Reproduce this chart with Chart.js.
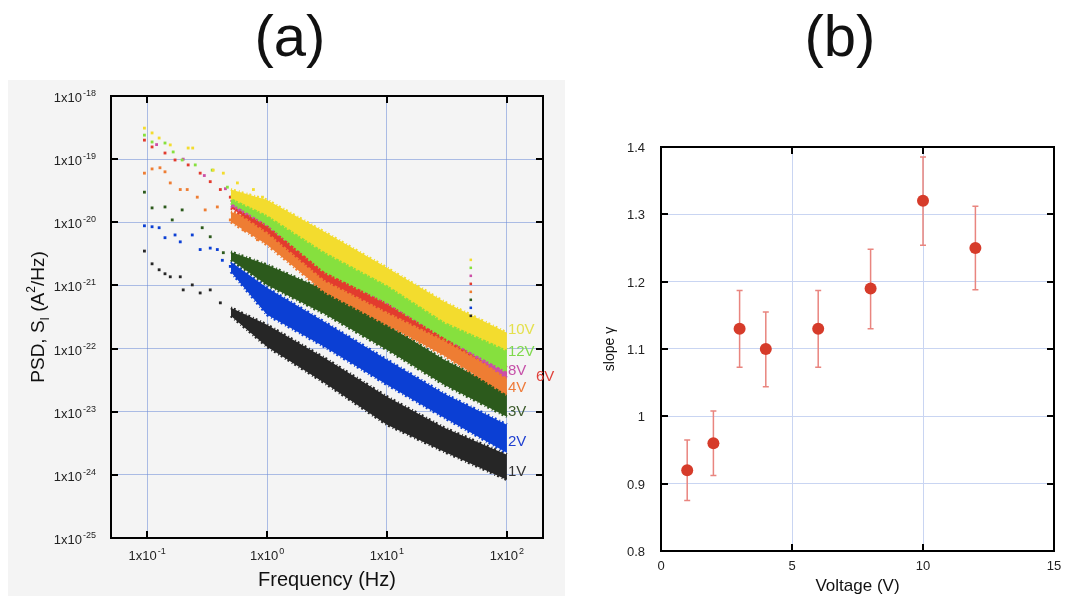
<!DOCTYPE html>
<html>
<head>
<meta charset="utf-8">
<script src="https://cdn.jsdelivr.net/npm/chart.js@4.4.1/dist/chart.umd.min.js"></script>
<style>
    html, body { margin: 0; padding: 0; background: #fff; }
    body { width: 1065px; height: 599px; position: relative; overflow: hidden; font-family: "Liberation Sans", Arial, sans-serif; }
    .title { position: absolute; top: 3px; width: 200px; font-size: 58px; line-height: 65px; color: #111; text-align: center; }
    #boxA { position: absolute; left: 8px; top: 80px; width: 557px; height: 516px; background: #f4f4f4; }
    #boxB { position: absolute; left: 565px; top: 80px; width: 500px; height: 519px; }
</style>
</head>
<body>
<div class="title" style="left:190px">(a)</div>
<div class="title" style="left:740px">(b)</div>
<div id="boxA"><canvas id="psdChart" width="557" height="516"></canvas></div>
<div id="boxB"><canvas id="slopeChart" width="500" height="519"></canvas></div>

<script>
// ---------- Panel (a): PSD vs frequency ----------
var freqTicks = [0.1, 1, 10, 100];
var psdTicks = [1e-25, 1e-24, 1e-23, 1e-22, 1e-21, 1e-20, 1e-19, 1e-18];

var seriesNames = ["10V", "12V", "8V", "6V", "4V", "3V", "2V", "1V"];
var seriesColors = ["#f3dc2e", "#86e03e", "#cc4fa6", "#e23b2e", "#ee7d33", "#2c5a1c", "#0b3fd4", "#262626"];
var labelColors = ["#e4e04c", "#7fd94c", "#c64fa8", "#e0403a", "#ef7b3a", "#3c5a2c", "#1f3fd0", "#333333"];

// dense part of each cloud: upper / lower edge at these frequencies
var bandFreq = [0.5, 1, 3, 10, 30, 100];
var hi10V = [3.30e-20, 2.26e-20, 7.05e-21, 1.90e-21, 5.50e-22, 1.78e-22];
var lo10V = [2.43e-20, 1.31e-20, 3.40e-21, 1.02e-21, 2.65e-22, 9.57e-23];
var hi12V = [2.71e-20, 1.57e-20, 3.94e-21, 1.23e-21, 3.30e-22, 9.57e-23];
var lo12V = [2.03e-20, 9.10e-21, 1.64e-21, 5.31e-22, 1.48e-22, 4.30e-23];
var hi8V = [2.26e-20, 1.31e-20, 2.73e-21, 7.10e-22, 2.13e-22, 4.97e-23];
var lo8V = [1.82e-20, 9.10e-21, 1.90e-21, 5.31e-22, 1.60e-22, 3.45e-23];
var hi6V = [2.26e-20, 1.17e-20, 2.36e-21, 6.37e-22, 1.98e-22, 5.55e-23];
var lo6V = [1.69e-20, 7.05e-21, 1.23e-21, 3.82e-22, 1.38e-22, 3.85e-23];
var hi4V = [1.46e-20, 1.01e-20, 1.90e-21, 6.37e-22, 1.84e-22, 4.14e-23];
var lo4V = [1.01e-20, 4.39e-21, 7.92e-22, 2.38e-22, 7.69e-23, 1.86e-23];
var hi3V = [3.40e-21, 2.12e-21, 8.51e-22, 2.38e-22, 6.65e-23, 2.07e-23];
var lo3V = [2.54e-21, 1.02e-21, 3.55e-22, 9.57e-23, 2.67e-23, 8.34e-24];
var hi2V = [2.36e-21, 9.16e-22, 2.65e-22, 6.65e-23, 1.93e-23, 6.23e-24];
var lo2V = [1.64e-21, 3.43e-22, 1.07e-22, 2.67e-23, 8.04e-24, 2.24e-24];
var hi1V = [4.42e-22, 2.38e-22, 7.15e-23, 1.73e-23, 5.58e-24, 2.09e-24];
var lo1V = [3.30e-22, 1.07e-22, 2.88e-23, 6.23e-24, 2.33e-24, 8.40e-25];

// sparse low-frequency points [Hz, A^2/Hz]
var pts10V = [[0.095, 3.1e-19], [0.110, 2.6e-19], [0.126, 2.16e-19], [0.156, 1.68e-19], [0.220, 1.5e-19], [0.240, 1.5e-19], [0.356, 6.7e-20], [0.432, 6.0e-20], [0.566, 4.2e-20], [0.770, 3.3e-20], [0.916, 2.5e-20]];
var pts12V = [[0.095, 2.4e-19], [0.110, 1.87e-19], [0.141, 1.8e-19], [0.165, 1.3e-19], [0.196, 9.7e-20], [0.252, 8.1e-20], [0.349, 6.7e-20], [0.467, 3.6e-20], [0.635, 2.5e-20], [0.933, 1.57e-20]];
var pts8V = [[0.12, 1.7e-19], [0.20, 1.0e-19], [0.30, 5.5e-20], [0.45, 3.4e-20], [0.70, 1.8e-20]];
var pts6V = [[0.095, 2.0e-19], [0.110, 1.56e-19], [0.141, 1.25e-19], [0.171, 9.7e-20], [0.220, 8.1e-20], [0.277, 6.0e-20], [0.336, 4.4e-20], [0.408, 3.3e-20], [0.494, 2.5e-20], [0.600, 1.75e-20], [0.832, 1.09e-20]];
var pts4V = [[0.095, 6.0e-20], [0.110, 7.0e-20], [0.128, 7.3e-20], [0.141, 6.3e-20], [0.156, 4.2e-20], [0.189, 3.3e-20], [0.216, 3.3e-20], [0.262, 2.5e-20], [0.305, 1.57e-20], [0.385, 1.75e-20], [0.494, 1.09e-20], [0.635, 7.6e-21], [0.832, 5.3e-21]];
var pts3V = [[0.095, 3.0e-20], [0.110, 1.69e-20], [0.141, 1.75e-20], [0.162, 1.09e-20], [0.196, 1.57e-20], [0.288, 8.2e-21], [0.336, 5.9e-21], [0.432, 3.3e-21], [0.600, 2.3e-21], [0.832, 1.77e-21]];
var pts2V = [[0.095, 8.8e-21], [0.110, 8.5e-21], [0.126, 8.2e-21], [0.141, 5.7e-21], [0.171, 6.3e-21], [0.189, 4.9e-21], [0.238, 6.3e-21], [0.277, 3.7e-21], [0.336, 3.9e-21], [0.385, 3.7e-21], [0.424, 2.5e-21], [0.494, 2.0e-21], [0.600, 1.58e-21], [0.770, 1.10e-21]];
var pts1V = [[0.095, 3.5e-21], [0.110, 2.2e-21], [0.126, 1.77e-21], [0.141, 1.53e-21], [0.156, 1.37e-21], [0.189, 1.37e-21], [0.200, 8.5e-22], [0.238, 1.02e-21], [0.277, 7.6e-22], [0.336, 8.5e-22], [0.408, 5.3e-22], [0.524, 3.7e-22], [0.686, 2.6e-22], [0.881, 1.78e-22]];

// 50 Hz pickup spike
var spikeFreq = 50;
var spikePsd = [2.54e-21, 1.90e-21, 1.42e-21, 1.06e-21, 7.92e-22, 5.92e-22, 4.42e-22, 3.30e-22];

// ---------- Panel (b): slope vs voltage ----------
var voltTicks = [0, 5, 10, 15];
var slopeTicks = [0.8, 0.9, 1, 1.1, 1.2, 1.3, 1.4];
var voltage = [1, 2, 3, 4, 6, 8, 10, 12];
var slope = [0.92, 0.96, 1.13, 1.10, 1.13, 1.19, 1.32, 1.25];
var slopeLow = [0.875, 0.912, 1.073, 1.044, 1.073, 1.130, 1.254, 1.188];
var slopeHigh = [0.965, 1.008, 1.187, 1.155, 1.187, 1.248, 1.385, 1.312];

(function () {
    "use strict";

    var FONT = "'Liberation Sans', Arial, sans-serif";
    var highs = [hi10V, hi12V, hi8V, hi6V, hi4V, hi3V, hi2V, hi1V];
    var lows = [lo10V, lo12V, lo8V, lo6V, lo4V, lo3V, lo2V, lo1V];
    var pts = [pts10V, pts12V, pts8V, pts6V, pts4V, pts3V, pts2V, pts1V];

    function xy(xs, ys) {
        return xs.map(function (x, i) { return { x: x, y: ys[i] }; });
    }
    function pairs(list) {
        return list.map(function (p) { return { x: p[0], y: p[1] }; });
    }

    // ---------- datasets for (a) ----------
    // band edges are drawn dotted and wide so the clouds get a speckled rim
    var dsA = [];
    seriesNames.forEach(function (name, i) {
        var c = seriesColors[i];
        dsA.push({ label: name + " hi", data: xy(bandFreq, highs[i]), borderColor: c, backgroundColor: c,
            borderWidth: 3, borderDash: [1, 2, 2, 3], pointRadius: 0, fill: "+1", order: i });
        dsA.push({ label: name + " lo", data: xy(bandFreq, lows[i]), borderColor: c, backgroundColor: c,
            borderWidth: 3, borderDash: [2, 3, 1, 2], pointRadius: 0, fill: false, order: i });
        dsA.push({ label: name + " pts", data: pairs(pts[i]), showLine: false, pointRadius: 2,
            pointStyle: "rect", pointBackgroundColor: c, pointBorderWidth: 0, order: i });
    });
    dsA.push({ label: "spike", data: spikePsd.map(function (v) { return { x: spikeFreq, y: v }; }),
        showLine: false, pointRadius: 1.8, pointStyle: "rect", pointBorderWidth: 0, order: -1,
        pointBackgroundColor: spikePsd.map(function (v, i) { return seriesColors[i % seriesColors.length]; }) });

    function drawPow(ctx, exp, x, y, align) {
        ctx.font = "13px " + FONT;
        var bw = ctx.measureText("1x10").width;
        ctx.font = "9px " + FONT;
        var sup = String(exp);
        var sw = ctx.measureText(sup).width;
        var total = bw + 1 + sw;
        var x0 = align === "right" ? x - total : (align === "center" ? x - total / 2 : x);
        ctx.textAlign = "left";
        ctx.textBaseline = "alphabetic";
        ctx.font = "13px " + FONT;
        ctx.fillText("1x10", x0, y);
        ctx.font = "9px " + FONT;
        ctx.fillText(sup, x0 + bw + 1, y - 6);
    }

    function drawRich(ctx, parts, cx, cy, size) {
        // parts: [text, kind] with kind "", "sub" or "sup"; drawn rotated -90deg, centred on (cx, cy)
        var small = Math.round(size * 0.62);
        var widths = parts.map(function (p) {
            ctx.font = (p[1] ? small : size) + "px " + FONT;
            return ctx.measureText(p[0]).width;
        });
        var total = widths.reduce(function (a, b) { return a + b; }, 0);
        ctx.save();
        ctx.translate(cx, cy);
        ctx.rotate(-Math.PI / 2);
        ctx.textAlign = "left";
        ctx.textBaseline = "alphabetic";
        var x = -total / 2;
        parts.forEach(function (p, i) {
            ctx.font = (p[1] ? small : size) + "px " + FONT;
            var dy = p[1] === "sub" ? 5 : (p[1] === "sup" ? -9 : 0);
            ctx.fillText(p[0], x, dy);
            x += widths[i];
        });
        ctx.restore();
    }

    function frameAndTicks(ctx, area, xs, ys, xScale, yScale) {
        ctx.save();
        ctx.strokeStyle = "#000";
        ctx.lineWidth = 2;
        ctx.beginPath();
        xs.forEach(function (v) {
            var px = Math.round(xScale.getPixelForValue(v));
            ctx.moveTo(px, area.bottom); ctx.lineTo(px, area.bottom - 7);
            ctx.moveTo(px, area.top); ctx.lineTo(px, area.top + 7);
        });
        ys.forEach(function (v) {
            var py = Math.round(yScale.getPixelForValue(v));
            ctx.moveTo(area.left, py); ctx.lineTo(area.left + 7, py);
            ctx.moveTo(area.right, py); ctx.lineTo(area.right - 7, py);
        });
        ctx.stroke();
        ctx.strokeRect(area.left, area.top, area.right - area.left, area.bottom - area.top);
        ctx.restore();
    }

    var decorA = {
        id: "decorA",
        afterDraw: function (chart) {
            var ctx = chart.ctx, area = chart.chartArea;
            var xs = chart.scales.x, ys = chart.scales.y;
            frameAndTicks(ctx, area, freqTicks, psdTicks, xs, ys);

            ctx.save();
            ctx.fillStyle = "#222";
            psdTicks.forEach(function (v) {
                drawPow(ctx, Math.round(Math.log10(v)), area.left - 15, ys.getPixelForValue(v) + 6, "right");
            });
            freqTicks.forEach(function (v) {
                drawPow(ctx, Math.round(Math.log10(v)), xs.getPixelForValue(v), area.bottom + 22, "center");
            });

            ctx.fillStyle = "#111";
            ctx.font = "20px " + FONT;
            ctx.textAlign = "center";
            ctx.textBaseline = "alphabetic";
            ctx.fillText("Frequency (Hz)", (area.left + area.right) / 2, area.bottom + 48);
            drawRich(ctx, [["PSD, S", ""], ["I", "sub"], [" (A", ""], ["2", "sup"], ["/Hz)", ""]],
                36, (area.top + area.bottom) / 2, 19);

            // series labels at the right end of each cloud
            var dx = [1, 1, 1, 29, 1, 1, 1, 1];
            var dy = [-11, -9, -2, 7, 4, 8, 3, 5];
            ctx.font = "15px " + FONT;
            ctx.textAlign = "left";
            ctx.textBaseline = "middle";
            var last = bandFreq.length - 1;
            seriesNames.forEach(function (name, i) {
                var mid = Math.sqrt(highs[i][last] * lows[i][last]);
                ctx.fillStyle = labelColors[i];
                ctx.fillText(name, xs.getPixelForValue(bandFreq[last]) + dx[i], ys.getPixelForValue(mid) + dy[i]);
            });
            ctx.restore();
        }
    };

    var gridA = { color: "rgba(110, 140, 215, 0.55)", lineWidth: 1, drawTicks: false };

    new Chart(document.getElementById("psdChart"), {
        type: "line",
        data: { datasets: dsA },
        options: {
            responsive: false,
            animation: false,
            layout: { padding: { left: 0, right: 22, top: 16, bottom: 0 } },
            plugins: { legend: { display: false }, tooltip: { enabled: false } },
            scales: {
                x: {
                    type: "logarithmic", min: 0.05, max: 200,
                    ticks: { display: false }, grid: gridA, border: { display: false },
                    afterBuildTicks: function (s) { s.ticks = freqTicks.map(function (v) { return { value: v }; }); },
                    afterFit: function (s) { s.height = 58; }
                },
                y: {
                    type: "logarithmic", min: 1e-25, max: 1e-18,
                    ticks: { display: false }, grid: gridA, border: { display: false },
                    afterBuildTicks: function (s) { s.ticks = psdTicks.map(function (v) { return { value: v }; }); },
                    afterFit: function (s) { s.width = 103; }
                }
            }
        },
        plugins: [decorA]
    });

    // ---------- panel (b) ----------
    var decorB = {
        id: "decorB",
        beforeDatasetsDraw: function (chart) {
            var ctx = chart.ctx, xs = chart.scales.x, ys = chart.scales.y;
            ctx.save();
            ctx.strokeStyle = "#e9857f";
            ctx.lineWidth = 1.5;
            ctx.beginPath();
            voltage.forEach(function (v, i) {
                var px = xs.getPixelForValue(v);
                var y1 = ys.getPixelForValue(slopeLow[i]);
                var y2 = ys.getPixelForValue(slopeHigh[i]);
                ctx.moveTo(px, y1); ctx.lineTo(px, y2);
                ctx.moveTo(px - 3, y1); ctx.lineTo(px + 3, y1);
                ctx.moveTo(px - 3, y2); ctx.lineTo(px + 3, y2);
            });
            ctx.stroke();
            ctx.restore();
        },
        afterDraw: function (chart) {
            var ctx = chart.ctx, area = chart.chartArea;
            var xs = chart.scales.x, ys = chart.scales.y;
            frameAndTicks(ctx, area, voltTicks.slice(1, -1), slopeTicks.slice(1, -1), xs, ys);

            ctx.save();
            ctx.fillStyle = "#222";
            ctx.font = "13px " + FONT;
            ctx.textBaseline = "alphabetic";
            ctx.textAlign = "right";
            slopeTicks.forEach(function (v) {
                ctx.fillText(String(v), area.left - 16, ys.getPixelForValue(v) + 5);
            });
            ctx.textAlign = "center";
            voltTicks.forEach(function (v) {
                ctx.fillText(String(v), xs.getPixelForValue(v), area.bottom + 19);
            });
            ctx.fillStyle = "#111";
            ctx.font = "17px " + FONT;
            ctx.fillText("Voltage (V)", (area.left + area.right) / 2, area.bottom + 40);
            drawRich(ctx, [["slope \u03B3", ""]], 49, (area.top + area.bottom) / 2, 14);
            ctx.restore();
        }
    };

    var gridB = { color: "#c9d5f2", lineWidth: 1, drawTicks: false };

    new Chart(document.getElementById("slopeChart"), {
        type: "scatter",
        data: {
            datasets: [{
                label: "slope",
                data: xy(voltage, slope),
                pointRadius: 6,
                pointBackgroundColor: "#d63b2a",
                pointBorderColor: "#d63b2a",
                pointBorderWidth: 0
            }]
        },
        options: {
            responsive: false,
            animation: false,
            layout: { padding: { left: 0, right: 11, top: 67, bottom: 0 } },
            plugins: { legend: { display: false }, tooltip: { enabled: false } },
            scales: {
                x: {
                    type: "linear", min: 0, max: 15,
                    ticks: { display: false }, grid: gridB, border: { display: false },
                    afterBuildTicks: function (s) { s.ticks = voltTicks.map(function (v) { return { value: v }; }); },
                    afterFit: function (s) { s.height = 48; }
                },
                y: {
                    type: "linear", min: 0.8, max: 1.4,
                    ticks: { display: false }, grid: gridB, border: { display: false },
                    afterBuildTicks: function (s) { s.ticks = slopeTicks.map(function (v) { return { value: v }; }); },
                    afterFit: function (s) { s.width = 96; }
                }
            }
        },
        plugins: [decorB]
    });
})();
</script>
</body>
</html>
